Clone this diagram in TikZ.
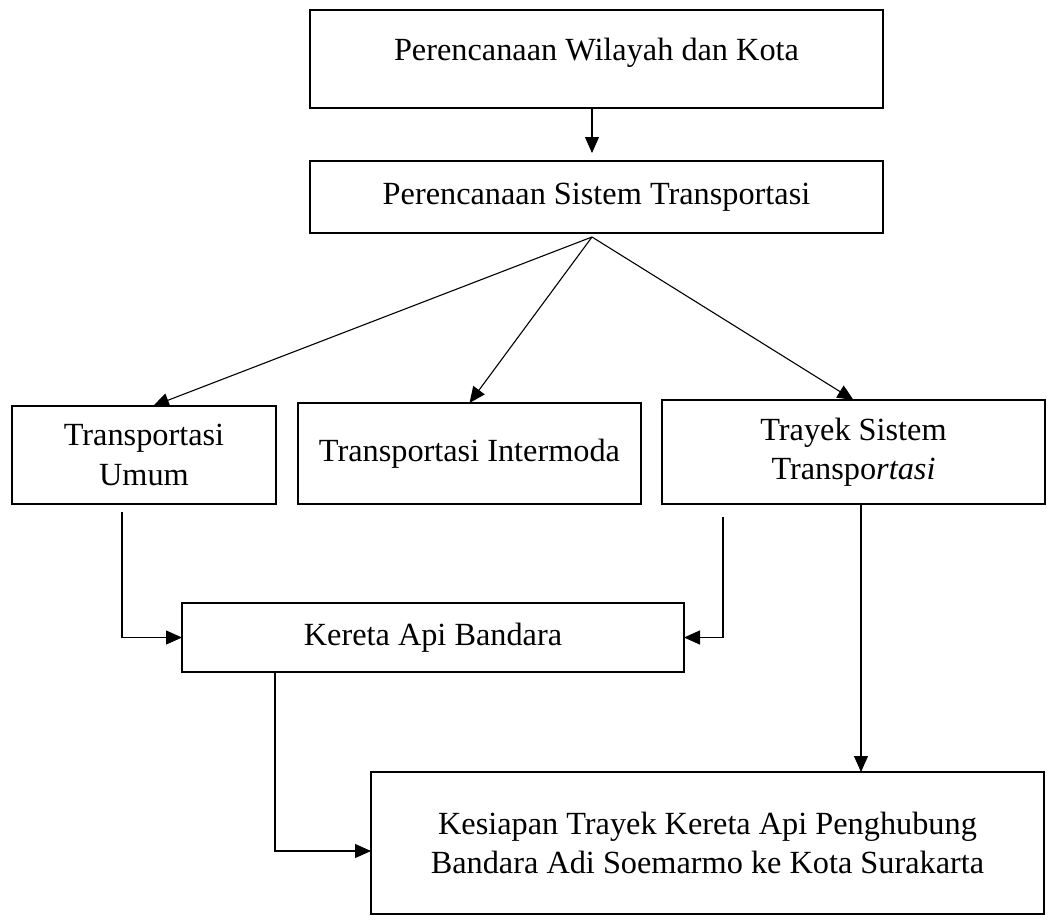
\documentclass[tikz,border=0pt]{standalone}
\usepackage{fontspec}
\setmainfont{Liberation Serif}
\usetikzlibrary{arrows.meta}
\tikzset{
  box/.style={draw, line width=2pt, inner sep=0pt, outer sep=0pt, align=center,
    font=\fontsize{32.3}{39.5}\selectfont},
  conn/.style={line width=1.1pt, -{Triangle[length=16pt,width=14pt]}},
}
\begin{document}
\begin{tikzpicture}[x=1pt,y=-1pt]
\useasboundingbox (0,0) rectangle (1057,919);
\node[box, minimum width=573pt, minimum height=98pt, text depth=20pt] (box1) at (596.5,59) {Perencanaan Wilayah dan Kota};
\node[box, minimum width=573pt, minimum height=72pt] (box2) at (596.5,197) {Perencanaan Sistem Transportasi};
\node[box, minimum width=264pt, minimum height=98pt] (umum) at (144,455) {Transportasi\\Umum};
\node[box, minimum width=343pt, minimum height=101pt] (inter) at (469.5,453.5) {Transportasi Intermoda};
\node[box, minimum width=383pt, minimum height=104pt] (trayek) at (853.5,452) {Trayek Sistem\\Transpo\textit{rtasi}};
\node[box, minimum width=502pt, minimum height=69pt] (kereta) at (433,637.5) {Kereta Api Bandara};
\node[box, minimum width=673pt, minimum height=142pt] (kesiapan) at (707.5,843) {Kesiapan Trayek Kereta Api Penghubung\\Bandara Adi Soemarmo ke Kota Surakarta};
% connectors
\coordinate (a1) at (592,108);
\draw[conn, shorten >=8pt] (a1) -- (a1 |- box2.north);
\coordinate (ap) at (592,237);
\draw[conn] (ap) -- ([xshift=9pt]umum.north);
\draw[conn] (ap) -- (inter.north);
\draw[conn] (ap) -- (trayek.north);
\coordinate (u0) at (122,512);
\draw[conn] (u0) |- (kereta.west);
\coordinate (t0) at (723,517);
\draw[conn] (t0) |- (kereta.east);
\coordinate (t1) at (861,504);
\draw[conn] (t1) -- (t1 |- kesiapan.north);
\coordinate (k0) at (275,672);
\draw[conn] (k0) |- ([yshift=-8pt]kesiapan.west);
\end{tikzpicture}
\end{document}
